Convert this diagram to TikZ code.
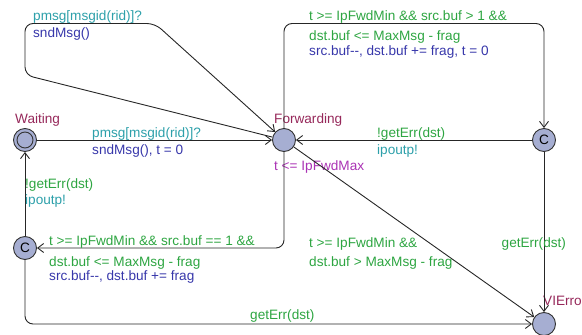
\documentclass[tikz,border=0pt]{standalone}
\usepackage{fontspec}
\setmainfont{Liberation Sans}
\usetikzlibrary{arrows.meta}
\definecolor{locfill}{RGB}{166,174,210}
\definecolor{namecol}{RGB}{150,40,90}
\definecolor{guardcol}{RGB}{45,165,65}
\definecolor{synccol}{RGB}{45,160,170}
\definecolor{updcol}{RGB}{55,55,170}
\definecolor{invcol}{RGB}{170,50,180}
\tikzset{loc/.style={circle,draw=black!80,fill=locfill,line width=0.9pt,minimum size=23pt,inner sep=0pt},
  edge/.style={draw=black!85,line width=0.9pt,-{Straight Barb[length=6pt,width=9pt]},rounded corners=8pt},
  lbl/.style={anchor=base west,inner sep=0pt},
  namelbl/.style={lbl,text=namecol},
  guardlbl/.style={lbl,text=guardcol},
  synclbl/.style={lbl,text=synccol},
  updlbl/.style={lbl,text=updcol},
  invlbl/.style={lbl,text=invcol}}

\begin{document}
\begin{tikzpicture}[x=1pt,y=-1pt,font=\fontsize{13.6}{16}\selectfont]
  \useasboundingbox (0,0) rectangle (582,335);
  % locations
  \node[loc] (waiting) at (25,140) {};
  \draw[black!80,line width=0.9pt] (waiting.center) circle (8);
  \node[loc] (forwarding) at (284,140) {};
  \node[loc] (cright) at (544,140) {C};
  \node[loc] (cleft) at (25,248) {C};
  \node[loc] (vierror) at (544,324) {};
  \node[namelbl] (nwaiting) at (15,123) {Waiting};
  \node[namelbl] (nforwarding) at (274,123) {Forwarding};
  \node[namelbl] (nvierror) at (543,305) {VIError};
  \node[invlbl] (inv) at (274,170.5) {t <= IpFwdMax};

  % nails
  \coordinate (nailA) at (25,75);
  \coordinate (nailB) at (25,23.5);
  \coordinate (nailC) at (155,23.5);
  \coordinate (nailtop) at (284,23.5);

  % edges
  \draw[edge] (waiting) -- (forwarding);
  \draw[edge] (forwarding) -- (nailA) -- (nailB) -- (nailC) -- (forwarding);
  \draw[edge] (forwarding) -- (nailtop) -- (cright |- nailtop) -- (cright);
  \draw[edge] (cright) -- (forwarding);
  \draw[edge] (cright) -- (vierror);
  \draw[edge] (forwarding) -- (vierror);
  \draw[edge] (forwarding) |- (cleft);
  \draw[edge] (cleft) -- (waiting);
  \draw[edge] (cleft) |- (vierror);

  % labels
  \node[synclbl] (s1) at (92,137) {pmsg[msgid(rid)]?};
  \node[updlbl] (u1) at (92,154) {sndMsg(), t = 0};
  \node[synclbl] (s2) at (33,20) {pmsg[msgid(rid)]?};
  \node[updlbl] (u2) at (33,37.5) {sndMsg()};
  \node[guardlbl] (g3a) at (309,20.7) {t >= IpFwdMin \&\& src.buf > 1 \&\&};
  \node[guardlbl] (g3b) at (309,40.7) {dst.buf <= MaxMsg - frag};
  \node[updlbl] (u3) at (309,55) {src.buf-{}-, dst.buf += frag, t = 0};
  \node[guardlbl] (g4) at (377,137.5) {!getErr(dst)};
  \node[synclbl] (s4) at (377,154.5) {ipoutp!};
  \node[guardlbl] (g5) at (501.5,247.3) {getErr(dst)};
  \node[guardlbl] (g6a) at (309,247.3) {t >= IpFwdMin \&\&};
  \node[guardlbl] (g6b) at (309,266) {dst.buf > MaxMsg - frag};
  \node[guardlbl] (g7a) at (49,245.7) {t >= IpFwdMin \&\& src.buf == 1 \&\&};
  \node[guardlbl] (g7b) at (49,266.7) {dst.buf <= MaxMsg - frag};
  \node[updlbl] (u7) at (49,280) {src.buf-{}-, dst.buf += frag};
  \node[guardlbl] (g8) at (25,188) {!getErr(dst)};
  \node[synclbl] (s8) at (25,204) {ipoutp!};
  \node[guardlbl] (g9) at (250,319.3) {getErr(dst)};
\end{tikzpicture}
\end{document}
